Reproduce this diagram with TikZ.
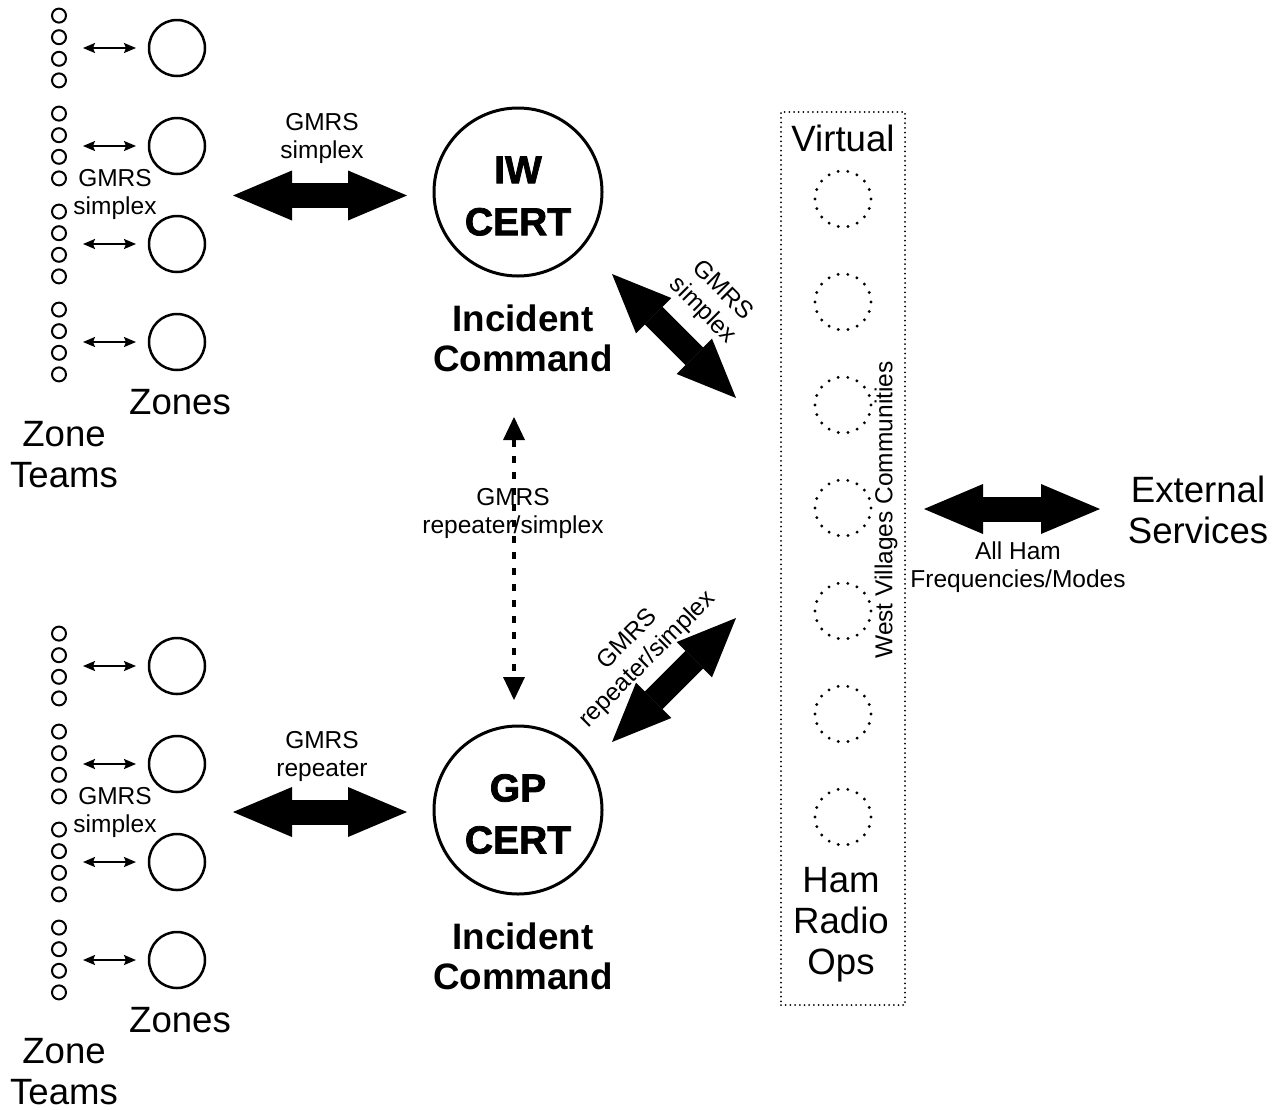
\documentclass[tikz,border=0pt]{standalone}
\usepackage{fontspec}
\setmainfont{Liberation Sans}
\newfontfamily\blackfont{Liberation Sans}[BoldFeatures={FakeBold=2}]
\usetikzlibrary{arrows.meta}
\tikzset{
  team/.style={circle, draw, line width=2pt, minimum size=14pt, inner sep=0pt},
  zone/.style={circle, draw, line width=2.5pt, minimum size=56pt, inner sep=0pt},
  cert/.style={circle, draw, line width=3pt, minimum size=168pt, inner sep=0pt},
  vcirc/.style={circle, draw, line width=3.2pt, dash pattern=on 0pt off 9.77pt, line cap=round, minimum size=56pt, inner sep=0pt},
  dotbox/.style={draw, line width=2pt, dash pattern=on 0pt off 4.7pt, line cap=round, inner sep=0pt},
  smallarr/.style={{Stealth[length=12pt,width=10pt,inset=2pt]}-{Stealth[length=12pt,width=10pt,inset=2pt]}, line width=1.8pt},
  bigarr/.style={{Triangle[length=59pt,width=50pt,line width=0pt]}-{Triangle[length=59pt,width=50pt,line width=0pt]}, line width=25pt},
  dasharr/.style={{Triangle[length=23pt,width=22pt,line width=0pt]}-{Triangle[length=23pt,width=22pt,line width=0pt]}, line width=4pt, dash pattern=on 7pt off 9pt},
  lbl/.style={font=\fontsize{24.5}{28}\selectfont, align=center, inner sep=0pt},
  big/.style={font=\fontsize{36.6}{41}\selectfont, align=center, inner sep=0pt},
  boldtxt/.style={font=\fontsize{36.8}{40}\selectfont\bfseries, align=center, inner sep=0pt},
  certtxt/.style={font=\fontsize{39}{52}\selectfont\blackfont\bfseries, align=center, inner sep=0pt}
}
\begin{document}
\begin{tikzpicture}[x=1pt,y=-1pt]
\useasboundingbox[fill=white] (0,0) rectangle (1279,1109);

% zone groups (top a, bottom b)
\foreach \h/\dy in {a/0, b/618} {
  \foreach \g/\zy in {1/48,2/146,3/244,4/342} {
    \node[zone] (z\h\g) at (177,\zy+\dy) {};
    \foreach \i/\o in {1/-32.4,2/-10.8,3/10.8,4/32.4}
      \node[team] (t\h\g\i) at (59,\zy+\dy+\o) {};
    \draw[smallarr] ([xshift=-64.75pt]z\h\g.west) -- ([xshift=-11.75pt]z\h\g.west);
  }
}

% texts left
\node[big] (zonesA) at (180,402) {Zones};
\node[big] (ztA) at (64,455) {Zone\\Teams};
\node[lbl] (gsLA) at (115,194) {GMRS\\simplex};
\node[big] (zonesB) at (180,1020) {Zones};
\node[big] (ztB) at (64,1072) {Zone\\Teams};
\node[lbl] (gsLB) at (115,812) {GMRS\\simplex};

% CERT nodes
\node[cert] (iw) at (518,192) {};
\node[certtxt] (iwt) at (518,196) {IW\\CERT};
\node[boldtxt] (icA) at (523,338) {Incident\\Command};
\node[cert] (gp) at (518,810) {};
\node[certtxt] (gpt) at (518,814) {GP\\CERT};
\node[boldtxt] (icB) at (523,956) {Incident\\Command};

% big horizontal arrows on the left
\coordinate (ha1) at (233,195.5);
\coordinate (ha2) at (407,195.5);
\draw[bigarr] (ha1) -- (ha2);
\node[lbl] (gsA) at (322,138.5) {GMRS\\simplex};
\coordinate (hb1) at (233,812);
\coordinate (hb2) at (407,812);
\draw[bigarr] (hb1) -- (hb2);
\node[lbl] (grB) at (322,756) {GMRS\\repeater};

% diagonal arrows
\coordinate (da1) at (612,274);
\coordinate (da2) at (736,398);
\draw[bigarr] (da1) -- (da2);
\node[lbl, rotate=-45] (dla) at (712,301) {GMRS\\simplex};
\coordinate (db1) at (612,742);
\coordinate (db2) at (736,618);
\draw[bigarr] (db1) -- (db2);
\node[lbl, rotate=45] (dlb) at (638,650) {GMRS\\repeater/simplex};

% dashed vertical arrow
\coordinate (vt) at (514,417);
\coordinate (vb) at (514,700);
\draw[dasharr] (vt) -- (vb);
\node[lbl] (rep) at (513,513) {GMRS\\repeater/simplex};

% virtual box
\node[dotbox, minimum width=124pt, minimum height=893pt] (vbox) at (843,558.5) {};
\node[big] (virt) at (843,138) {Virtual};
\foreach \k in {0,...,6}
  \node[vcirc] (v\k) at (843,199+103*\k) {};
\node[lbl, rotate=90] (wv) at (886,510) {West Villages Communities};
\node[big] (ham) at (841,925) {Ham\\Radio\\Ops};

% external
\coordinate (ea1) at (924,509);
\coordinate (ea2) at (1100,509);
\draw[bigarr] (ea1) -- (ea2);
\node[lbl] (allham) at (1018,567) {All Ham\\Frequencies/Modes};
\node[big] (ext) at (1198,510) {External\\Services};
\end{tikzpicture}
\end{document}
